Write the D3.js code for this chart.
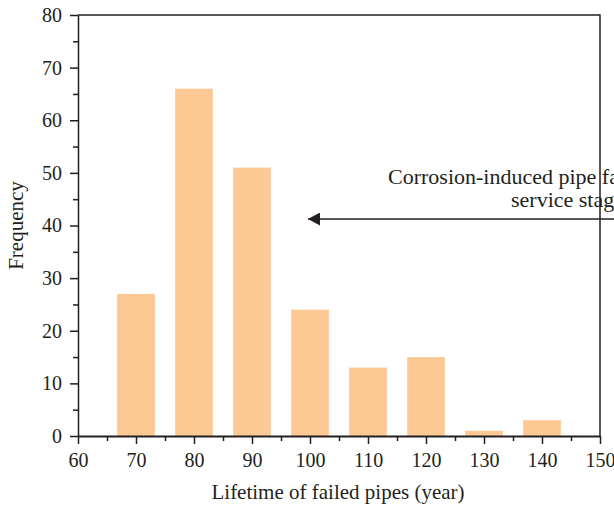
<!DOCTYPE html>
<html lang="en">
<head>
  <meta charset="UTF-8">
  <title>Lifetime of failed pipes</title>
  <script src="https://d3js.org/d3.v7.min.js"></script>
  <style>
    body { margin: 0; background: #fff; }
    svg { display: block; font-family: "Liberation Serif", "DejaVu Serif", serif; }
    .axis text { font-size: 20px; fill: #231f20; font-family: "Liberation Serif", serif; }
    .axis path, .axis line { stroke: #231f20; }
  </style>
</head>
<body>
<svg id="chart" width="614" height="507"></svg>
<script>
  // data
  const lifetimes = [70, 80, 90, 100, 110, 120, 130, 140];
  const frequency = [27, 66, 51, 24, 13, 15, 1, 3];
  const xTicks = [60, 70, 80, 90, 100, 110, 120, 130, 140, 150];
  const yTicks = [0, 10, 20, 30, 40, 50, 60, 70, 80];
  const noteLines = ["Corrosion-induced pipe failure in the", "service stage"];

  const svg = d3.select("#chart"),
        margin = { top: 15, right: 14, bottom: 71, left: 78 },
        width  = +svg.attr("width")  - margin.left - margin.right,
        height = +svg.attr("height") - margin.top  - margin.bottom;

  const BAR_FILL = "#fcc995",
        INK = "#231f20";

  const x = d3.scaleLinear().domain([60, 150]).range([0, width]);
  const y = d3.scaleLinear().domain([0, 80]).range([height, 0]);
  const barW = 6.5; // in years

  const g = svg.append("g")
    .attr("transform", `translate(${margin.left},${margin.top})`);

  // bars
  g.selectAll(".bar")
    .data(lifetimes.map((v, i) => ({ v, f: frequency[i] })))
    .join("rect")
    .attr("class", "bar")
    .attr("x", d => x(d.v - barW / 2))
    .attr("width", d => x(d.v + barW / 2) - x(d.v - barW / 2))
    .attr("y", d => y(d.f))
    .attr("height", d => y(0) - y(d.f))
    .attr("fill", BAR_FILL);

  // minor ticks
  g.append("g")
    .attr("class", "axis")
    .attr("transform", `translate(0,${height})`)
    .call(d3.axisBottom(x).tickValues(d3.range(65, 150, 10)).tickSize(5).tickFormat(""))
    .call(a => a.select(".domain").remove())
    .call(a => a.selectAll("line").attr("stroke-width", 1.5));
  g.append("g")
    .attr("class", "axis")
    .call(d3.axisLeft(y).tickValues(d3.range(5, 80, 10)).tickSize(5).tickFormat(""))
    .call(a => a.select(".domain").remove())
    .call(a => a.selectAll("line").attr("stroke-width", 1.5));

  // major ticks
  g.append("g")
    .attr("class", "axis")
    .attr("transform", `translate(0,${height})`)
    .call(d3.axisBottom(x).tickValues(xTicks).tickSize(8).tickSizeOuter(0).tickPadding(9))
    .call(a => a.select(".domain").attr("stroke-width", 2))
    .call(a => a.selectAll("line").attr("stroke-width", 1.5));
  g.append("g")
    .attr("class", "axis")
    .call(d3.axisLeft(y).tickValues(yTicks).tickSize(8).tickSizeOuter(0).tickPadding(8))
    .call(a => a.select(".domain").attr("stroke-width", 1.5))
    .call(a => a.selectAll("line").attr("stroke-width", 1.5));

  // annotation text
  const note = g.append("text")
    .attr("font-size", 22)
    .attr("fill", INK)
    .attr("text-anchor", "start");
  note.append("tspan").attr("x", 310).attr("y", 169).text(noteLines[0]);
  note.append("tspan").attr("x", 433).attr("y", 192).text(noteLines[1]);

  // top and right frame
  g.append("path")
    .attr("d", `M0,0H${width}V${height}`)
    .attr("fill", "none")
    .attr("stroke", INK)
    .attr("stroke-width", 1.5);

  // arrow
  const defs = svg.append("defs");
  defs.append("marker")
    .attr("id", "head")
    .attr("viewBox", "0 0 12 13")
    .attr("refX", 0).attr("refY", 6.5)
    .attr("markerWidth", 12).attr("markerHeight", 13)
    .attr("markerUnits", "userSpaceOnUse")
    .attr("orient", "auto")
    .append("path")
    .attr("d", "M0,6.5L12,0L12,13Z")
    .attr("fill", INK);

  g.append("line")
    .attr("x1", 230).attr("x2", 560)
    .attr("y1", 204).attr("y2", 204)
    .attr("stroke", INK)
    .attr("stroke-width", 1.5)
    .attr("marker-start", "url(#head)");

  // axis titles
  svg.append("text")
    .attr("x", 338)
    .attr("y", 499)
    .attr("text-anchor", "middle")
    .attr("font-size", 21)
    .attr("fill", INK)
    .text("Lifetime of failed pipes (year)");

  svg.append("text")
    .attr("transform", `translate(23,${margin.top + height / 2}) rotate(-90)`)
    .attr("text-anchor", "middle")
    .attr("font-size", 21)
    .attr("fill", INK)
    .text("Frequency");
</script>
</body>
</html>
